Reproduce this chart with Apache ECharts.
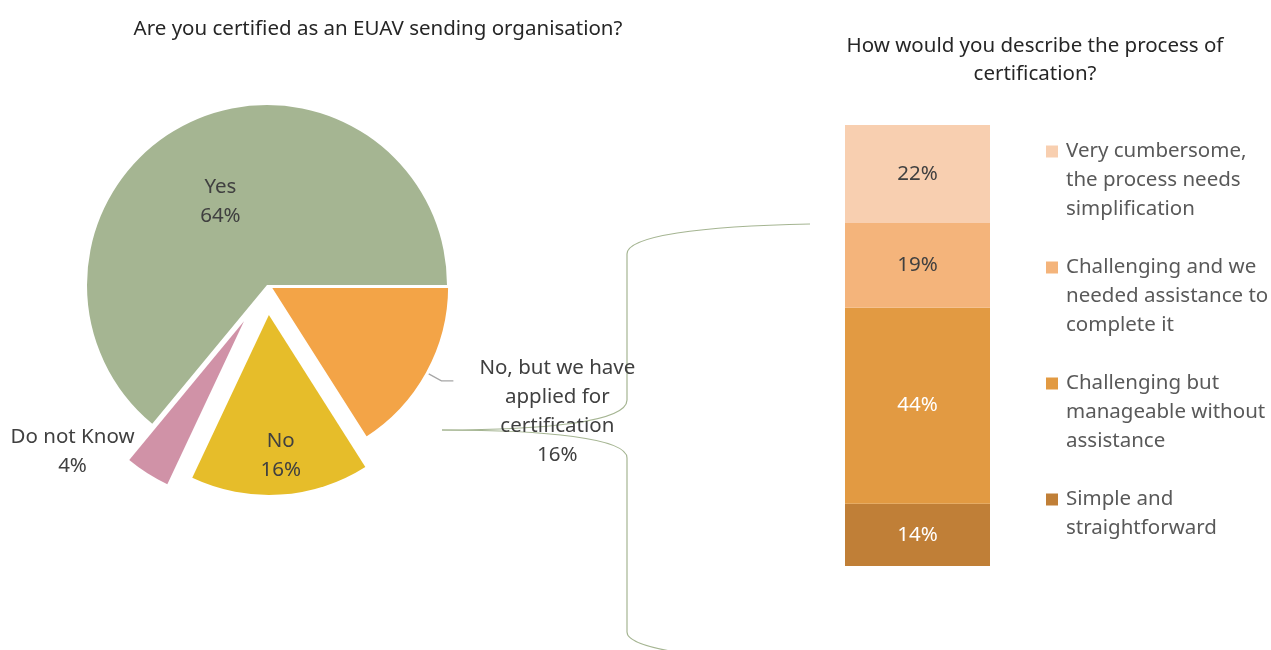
<!DOCTYPE html>
<html>
<head>
<meta charset="utf-8">
<script src="https://cdn.jsdelivr.net/npm/echarts@6/dist/echarts.min.js"></script>
<style>
  html, body { margin: 0; padding: 0; background: #fff; }
  #chart { width: 1271px; height: 650px; }
</style>
</head>
<body>
<div id="chart"></div>
<script>
// pie: are you certified
const pieNames = ['Yes', 'Do not Know', 'No', 'No, but we have applied for certification'];
const pieValues = [64, 4, 16, 16];
const pieColors = ['#A5B592', '#D092A7', '#E6BD2A', '#F3A447'];
const pieOffsets = [0, 43, 30, 3];

// stacked bar: process of certification (bottom -> top)
const barNames = [
    'Simple and straightforward',
    'Challenging but manageable without assistance',
    'Challenging and we needed assistance to complete it',
    'Very cumbersome, the process needs simplification'
];
const barValues = [14, 44, 19, 22];
const barColors = ['#C07F37', '#E29A42', '#F4B47B', '#F8CFB0'];
const barLabelColors = ['#ffffff', '#ffffff', '#404040', '#404040'];
const barLegendLines = [
    ['Simple and', 'straightforward'],
    ['Challenging but', 'manageable without', 'assistance'],
    ['Challenging and we', 'needed assistance to', 'complete it'],
    ['Very cumbersome,', 'the process needs', 'simplification']
];

const FONT = 'Noto Sans';
const FS = 20.5;
const LINE_COLOR = '#A5B592';

// 每个扇区单独一个系列，这样可以各自设置偏移
function pieSeries(idx, label, labelLine, extraStyle) {
    return {
        type: 'pie',
        center: [267, 285],
        radius: 180,
        startAngle: 0,
        clockwise: false,
        selectedMode: 'multiple',
        selectedOffset: pieOffsets[idx],
        avoidLabelOverlap: false,
        silent: true,
        animation: false,
        data: pieNames.map((name, i) => ({
            name: name,
            value: pieValues[i],
            selected: i === idx && pieOffsets[idx] > 0,
            itemStyle: i === idx
                ? Object.assign({ color: pieColors[i] }, extraStyle || {})
                : { color: 'rgba(0,0,0,0)' },
            label: i === idx ? label : { show: false },
            labelLine: i === idx ? labelLine : { show: false }
        }))
    };
}

function centered(lines) {
    return lines.map(l => '{c|' + l + '}').join('\n');
}

const labelBase = {
    show: true,
    fontFamily: FONT,
    fontSize: FS,
    lineHeight: 29,
    color: '#404040',
    rich: { c: { align: 'center', fontFamily: FONT, fontSize: FS, lineHeight: 29, color: '#404040' } }
};

const series = [
    pieSeries(0, Object.assign({}, labelBase, {
        position: 'inside',
        padding: [2, 14, 0, 0],
        formatter: p => centered([p.name, p.percent + '%'])
    }), { show: false }),
    pieSeries(1, Object.assign({}, labelBase, {
        position: 'outside',
        padding: [0, 8, 44, 0],
        formatter: p => centered(['Do not Know', p.percent + '%'])
    }), { show: false, length: 0, length2: 0 }),
    pieSeries(2, Object.assign({}, labelBase, {
        position: 'inside',
        padding: [96, 0, 0, 12],
        formatter: p => centered([p.name, p.percent + '%'])
    }), { show: false }),
    pieSeries(3, Object.assign({}, labelBase, {
        position: 'outside',
        distanceToLabelLine: 26,
        padding: [62, 0, 0, 0],
        formatter: p => centered(['No, but we have', 'applied for', 'certification', p.percent + '%'])
    }), { show: true, length: 16, length2: 12, lineStyle: { color: '#A6A6A6', width: 1.3 } },
    { borderColor: '#ffffff', borderWidth: 3 })
];

barNames.forEach((name, i) => {
    series.push({
        type: 'bar',
        name: name,
        stack: 'proc',
        barWidth: '100%',
        animation: false,
        itemStyle: { color: barColors[i] },
        label: {
            show: true,
            position: 'inside',
            formatter: '{c}%',
            fontFamily: FONT,
            fontSize: FS,
            color: barLabelColors[i]
        },
        data: [barValues[i]]
    });
});

// 图例富文本：方块只跟第一行对齐
const legendRich = {
    s: { width: 12, height: 12 },
    t: { fontFamily: FONT, fontSize: FS, lineHeight: 29, color: '#595959', padding: [0, 0, 0, 8] }
};
barColors.forEach((c, i) => {
    legendRich['m' + i] = { width: 12, height: 12, backgroundColor: c, verticalAlign: 'middle' };
});

const titleStyle = { fontFamily: FONT, fontSize: FS, fontWeight: 'normal', lineHeight: 28, color: '#262626' };

const chart = echarts.init(document.getElementById('chart'));

const option = {
    backgroundColor: '#ffffff',
    animation: false,
    title: [
        {
            text: 'Are you certified as an EUAV sending organisation?',
            left: 373,
            top: 10,
            textAlign: 'center',
            textStyle: titleStyle
        },
        {
            text: 'How would you describe the process of\ncertification?',
            left: 1030,
            top: 27,
            textAlign: 'center',
            textStyle: titleStyle
        }
    ],
    legend: {
        orient: 'vertical',
        left: 1036,
        top: 136,
        itemGap: 37,
        itemWidth: 0,
        itemHeight: 12,
        selectedMode: false,
        data: barNames.slice().reverse(),
        formatter: function (name) {
            const i = barNames.indexOf(name);
            return barLegendLines[i].map((line, k) =>
                (k === 0 ? '{m' + i + '| }' : '{s| }') + '{t|' + line + '}'
            ).join('\n');
        },
        textStyle: { rich: legendRich }
    },
    grid: { left: 845, right: 281, top: 125, bottom: 84 },
    xAxis: { type: 'category', data: ['process'], show: false },
    yAxis: { type: 'value', min: 0, max: barValues.reduce((a, b) => a + b, 0), show: false },
    graphic: [
        // 连接饼图与柱的括号线
        { type: 'bezierCurve', shape: { x1: 442, y1: 430, cpx1: 545, cpy1: 430, cpx2: 627, cpy2: 422, x2: 627, y2: 400 }, style: { stroke: LINE_COLOR, lineWidth: 1.2, fill: null } },
        { type: 'line', shape: { x1: 627, y1: 400, x2: 627, y2: 254 }, style: { stroke: LINE_COLOR, lineWidth: 1.2 } },
        { type: 'bezierCurve', shape: { x1: 627, y1: 254, cpx1: 627, cpy1: 236, cpx2: 700, cpy2: 226, x2: 810, y2: 224 }, style: { stroke: LINE_COLOR, lineWidth: 1.2, fill: null } },
        { type: 'bezierCurve', shape: { x1: 442, y1: 430, cpx1: 545, cpy1: 430, cpx2: 627, cpy2: 438, x2: 627, y2: 458 }, style: { stroke: LINE_COLOR, lineWidth: 1.2, fill: null } },
        { type: 'line', shape: { x1: 627, y1: 458, x2: 627, y2: 632 }, style: { stroke: LINE_COLOR, lineWidth: 1.2 } },
        { type: 'bezierCurve', shape: { x1: 627, y1: 632, cpx1: 627, cpy1: 648, cpx2: 700, cpy2: 660, x2: 810, y2: 662 }, style: { stroke: LINE_COLOR, lineWidth: 1.2, fill: null } }
    ],
    series: series
};

chart.setOption(option);

window.addEventListener('resize', function () {
    chart.resize();
});
</script>
</body>
</html>
